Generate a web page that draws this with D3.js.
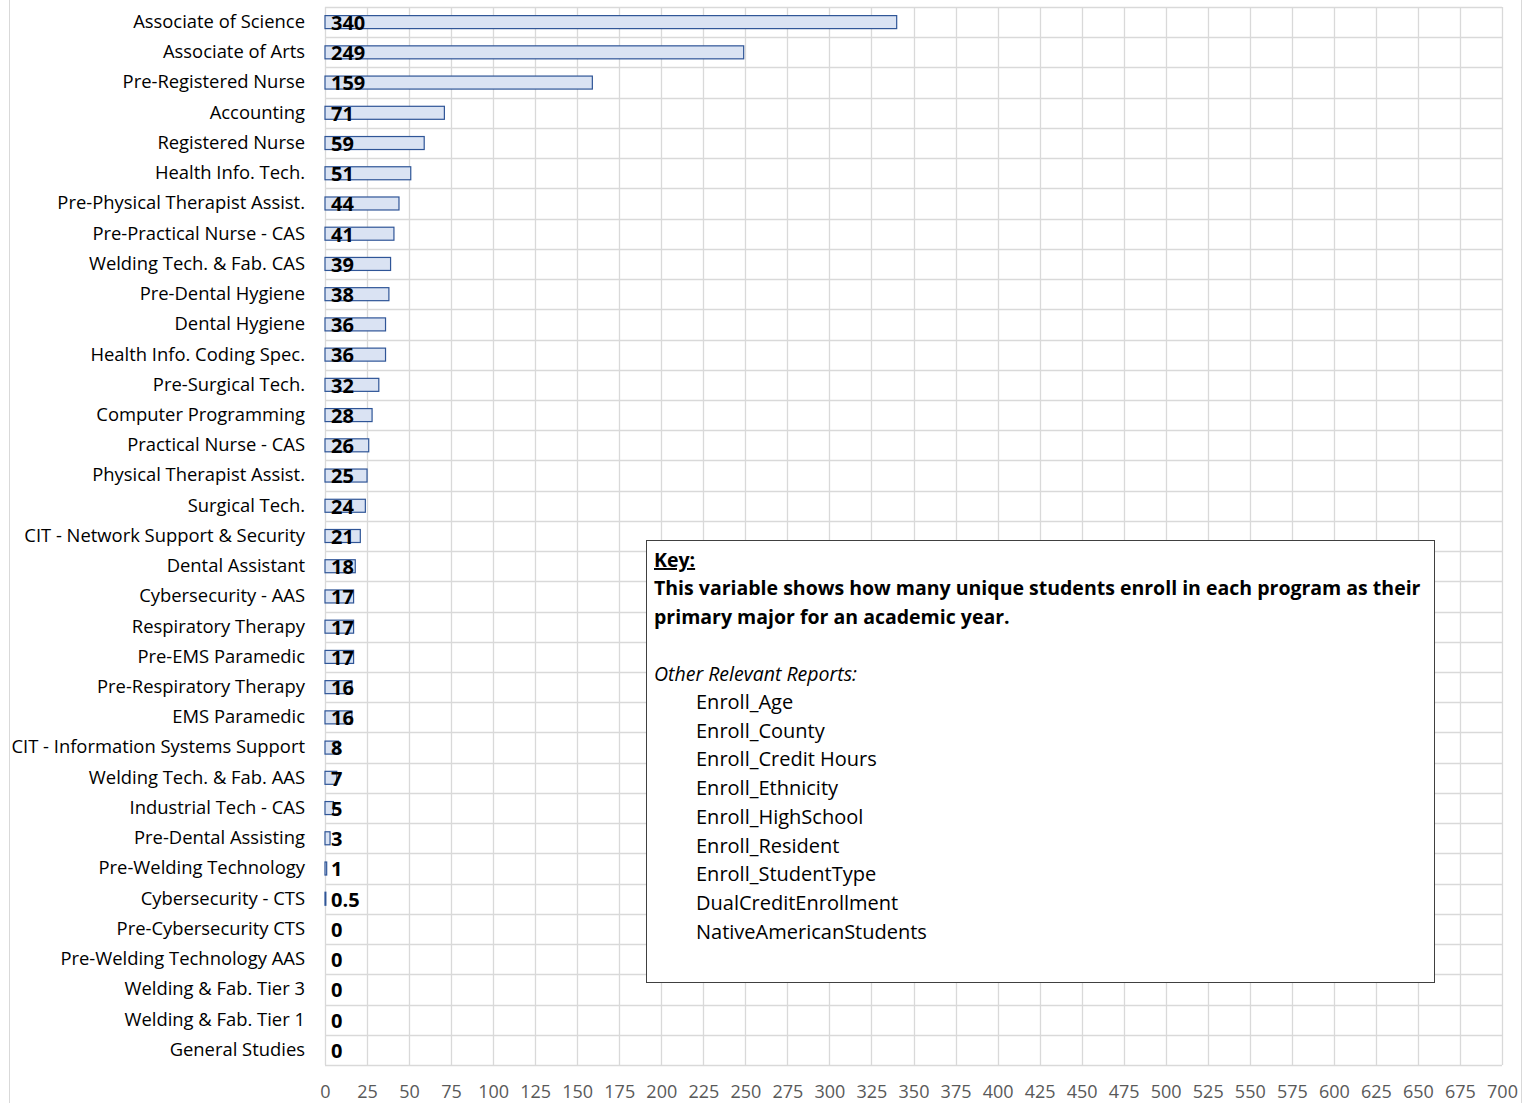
<!DOCTYPE html>
<html><head><meta charset="utf-8">
<script src="https://cdn.jsdelivr.net/npm/d3@7"></script>
<style>
body{margin:0;background:#fff;}
svg{display:block;font-family:"Open Sans","Noto Sans",sans-serif;}
</style></head>
<body><svg id="c" width="1526" height="1103"></svg>
<script>
const categories = ["Associate of Science","Associate of Arts","Pre-Registered Nurse","Accounting","Registered Nurse","Health Info. Tech.","Pre-Physical Therapist Assist.","Pre-Practical Nurse - CAS","Welding Tech. & Fab. CAS","Pre-Dental Hygiene","Dental Hygiene","Health Info. Coding Spec.","Pre-Surgical Tech.","Computer Programming","Practical Nurse - CAS","Physical Therapist Assist.","Surgical Tech.","CIT - Network Support & Security","Dental Assistant","Cybersecurity - AAS","Respiratory Therapy","Pre-EMS Paramedic","Pre-Respiratory Therapy","EMS Paramedic","CIT - Information Systems Support","Welding Tech. & Fab. AAS","Industrial Tech - CAS","Pre-Dental Assisting","Pre-Welding Technology","Cybersecurity - CTS","Pre-Cybersecurity CTS","Pre-Welding Technology AAS","Welding & Fab. Tier 3","Welding & Fab. Tier 1","General Studies"];
const values = [340,249,159,71,59,51,44,41,39,38,36,36,32,28,26,25,24,21,18,17,17,17,16,16,8,7,5,3,1,0.5,0,0,0,0,0];
const xTicks = d3.range(0,701,25);
const keyTitle = "Key:";
const keyLines = ["This variable shows how many unique students enroll in each program as their","primary major for an academic year."];
const keySub = "Other Relevant Reports:";
const keyReports = ["Enroll_Age","Enroll_County","Enroll_Credit Hours","Enroll_Ethnicity","Enroll_HighSchool","Enroll_Resident","Enroll_StudentType","DualCreditEnrollment","NativeAmericanStudents"];

const svg = d3.select("#c");
const L=325, R=1502, T=7, B=1065;
svg.append("rect").attr("x",9.5).attr("y",-1).attr("width",1512).attr("height",1110).attr("fill","none").attr("stroke","#d9d9d9");

const x = d3.scaleLinear().domain([0,700]).range([L,R]);
const y = d3.scaleBand().domain(categories).range([T,B]).paddingInner(0.57).paddingOuter(0.285);
const yb = d3.scaleBand().domain(categories).range([T,B]);

svg.append("g").selectAll("line").data(xTicks).join("line")
  .attr("x1",d=>Math.round(x(d))+0.5).attr("x2",d=>Math.round(x(d))+0.5).attr("y1",T).attr("y2",B)
  .attr("stroke","#d9d9d9").attr("stroke-width",1.3);
const hLines = categories.map(c=>yb(c)).concat([B]);
svg.append("g").selectAll("line").data(hLines).join("line")
  .attr("x1",L).attr("x2",R).attr("y1",d=>Math.round(d)+0.5).attr("y2",d=>Math.round(d)+0.5)
  .attr("stroke","#d9d9d9").attr("stroke-width",1.3);

svg.append("g").selectAll("rect").data(values).join("rect")
  .attr("x",x(0)).attr("y",(d,i)=>y(categories[i]))
  .attr("width",d=>x(d)-x(0)).attr("height",y.bandwidth())
  .attr("fill","#dae3f3").attr("stroke",d=>d>0?"#2f5597":"none").attr("stroke-width",1.2);

svg.append("g").selectAll("text").data(values).join("text")
  .attr("x",x(0)+6).attr("y",(d,i)=>yb(categories[i])+yb.bandwidth()/2+2.5)
  .attr("dominant-baseline","middle").attr("font-weight","bold").attr("font-size",20).attr("fill","#000")
  .text(d=>d);

const ya = svg.append("g").attr("transform",`translate(${L},0)`).call(d3.axisLeft(yb).tickSize(0).tickPadding(20));
ya.select(".domain").remove();
ya.selectAll("text").attr("font-size",18.4).attr("fill","#000").attr("font-family","'Open Sans',sans-serif");

const xa = svg.append("g").attr("transform",`translate(0,${B})`).call(d3.axisBottom(x).tickValues(xTicks).tickSize(0).tickPadding(20));
xa.select(".domain").remove();
xa.selectAll("text").attr("font-size",18).attr("fill","#595959").attr("font-family","'Open Sans',sans-serif");

const kg = svg.append("g");
kg.append("rect").attr("x",646.5).attr("y",540.5).attr("width",788).attr("height",442).attr("fill","#fff").attr("stroke","#404040").attr("stroke-width",1);
const kx=654, lh=28.7;
kg.append("text").attr("x",kx).attr("y",567).attr("font-weight","bold").attr("font-size",19.5).attr("text-decoration","underline").text(keyTitle);
keyLines.forEach((t,i)=>kg.append("text").attr("x",kx).attr("y",595+i*lh).attr("font-weight","bold").attr("font-size",19.5).text(t));
kg.append("text").attr("x",kx).attr("y",681).attr("font-style","italic").attr("font-size",19.5).text(keySub);
keyReports.forEach((t,i)=>kg.append("text").attr("x",696).attr("y",709+i*lh).attr("font-size",20).text(t));
</script></body></html>
